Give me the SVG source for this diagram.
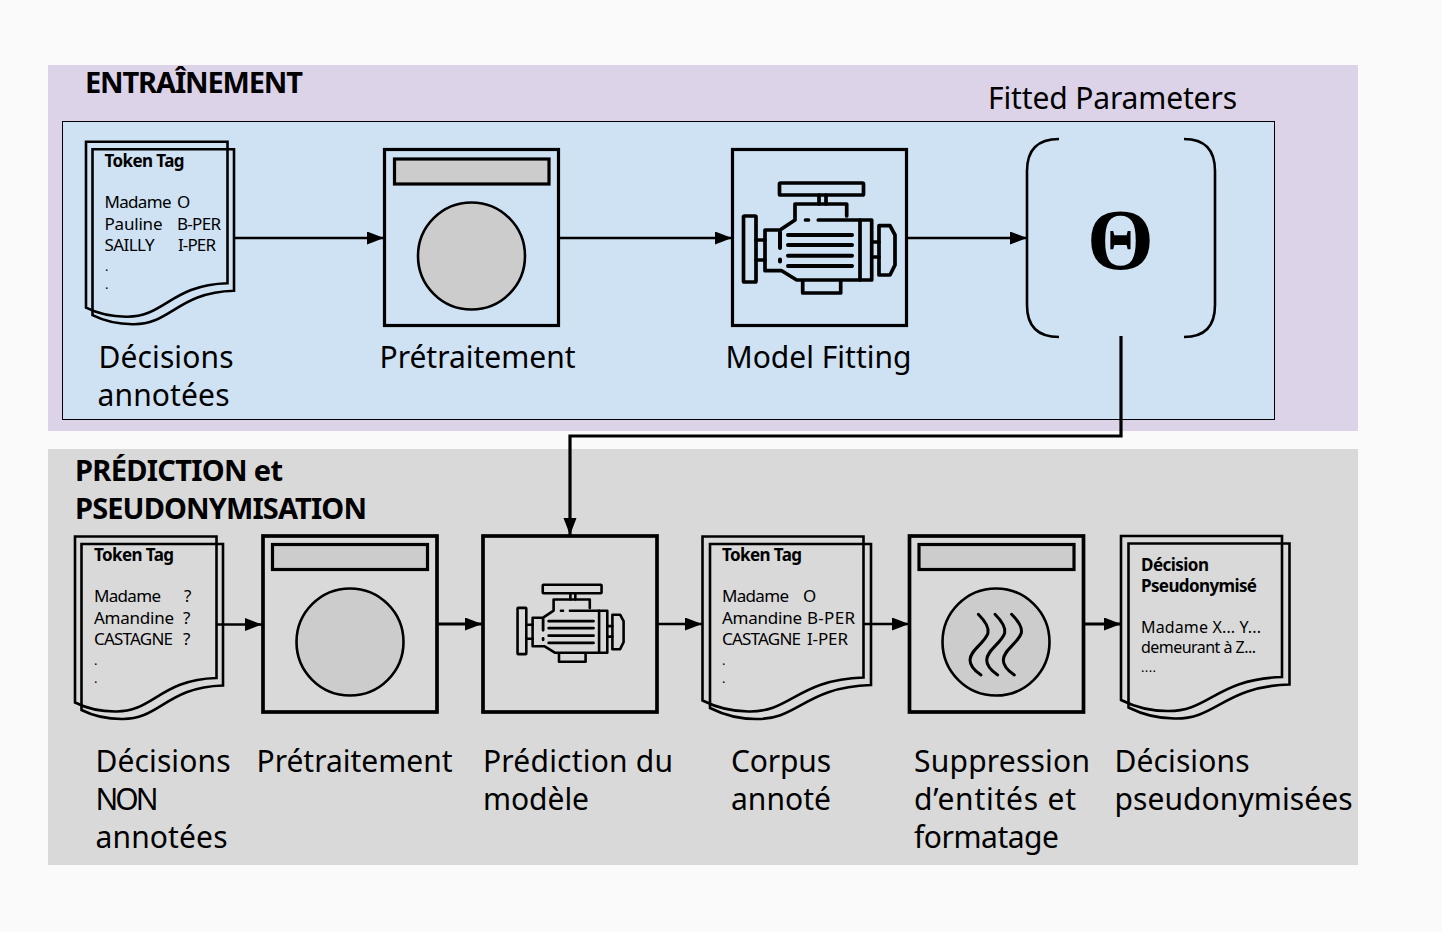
<svg xmlns="http://www.w3.org/2000/svg" width="1442" height="932" viewBox="0 0 1442 932">
<style>
text{font-family:"Noto Sans","Open Sans",sans-serif;fill:#000}
.lab{font-size:30px}
.head{font-size:29px;font-weight:700}
.sm{font-size:17px}
.xs{font-size:16px}
.dot{font-size:13px}
.b{font-size:17px;font-weight:700}
.doc{fill:none;stroke:#000;stroke-width:2.6;stroke-linejoin:miter}
.box{fill:none;stroke:#000;stroke-width:3.2}
.box2{fill:none;stroke:#000;stroke-width:3.7}
.bar{fill:#ccc;stroke:#000;stroke-width:3.2}
.disc{fill:#ccc;stroke:#000;stroke-width:2.6}
.eng{fill:none;stroke:#000;stroke-width:3.7;stroke-linejoin:round;stroke-linecap:round}
.sq{fill:none;stroke:#000;stroke-width:3;stroke-linecap:round}
.arrow{fill:none;stroke:#000;stroke-width:2.4;marker-end:url(#ah)}
.arrow2{fill:none;stroke:#000;stroke-width:3.2;marker-end:url(#ah)}
</style>
<defs>
<marker id="ah" markerUnits="userSpaceOnUse" markerWidth="18" markerHeight="14" refX="17" refY="6.5" orient="auto"><path d="M0,0L17,6.5L0,13Z" fill="#000"/></marker>
<g id="sheet"><path d="M0,0H141.500V141.500C85,143 78,176 40,175C25,175 12,172 0,166Z"/><path transform="translate(6.500,7.500)" d="M0,0H141.500V141.500C85,143 78,176 40,175C25,175 12,172 0,166Z"/></g>
<g id="sheetw"><path d="M0,0H161V141C95,143 88,176 46,175C28,175 14,171 0,164Z"/><path transform="translate(7.500,7.500)" d="M0,0H161V141C95,143 88,176 46,175C28,175 14,171 0,164Z"/></g>
<g id="engine">
<rect x="743.500" y="216" width="12.500" height="66" rx="1"/>
<rect x="779.500" y="183" width="84" height="12" rx="1"/>
<path d="M819,195V204M826,195V204"/>
<path d="M846.700,216V204H795V220L780,230H765V270.700H781.700L796.700,280H871.700V220H818.300"/>
<path d="M805.500,220H808.500M860,220V280M756,240H765M756,260H765M872,242H879M872,257H879"/>
<path d="M879,225.700H890L895,235V265L890,275H879Z"/>
<path d="M802.700,281V293H840.700V281"/>
<path d="M788,235H852M788,245H852M788,255.700H852M788,266H852M780,232V248M780,259.500V261.500" stroke-width="4"/>
</g>
</defs>
<rect width="1442" height="932" fill="#fafafa"/>
<rect x="48" y="65" width="1310" height="366" fill="#dcd3e9"/>
<rect x="62.500" y="121.500" width="1212" height="298" fill="#cfe2f3" stroke="#000" stroke-width="1"/>
<rect x="48" y="449" width="1310" height="416" fill="#d9d9d9"/>
<g id="headings">
<text class="head" x="85" y="92.500" textLength="218">ENTRAÎNEMENT</text>
<text class="lab" x="988" y="109" textLength="249">Fitted Parameters</text>
<text class="head" x="75" y="481" textLength="208">PRÉDICTION et</text>
<text class="head" x="75" y="519" textLength="292">PSEUDONYMISATION</text>
</g>
<g id="connectors">
<path class="arrow" d="M234,238H384"/>
<path class="arrow" d="M559,238H732"/>
<path class="arrow" d="M907,238H1027"/>
<path class="arrow2" d="M1121,336V436H570V535"/>
<path class="arrow" d="M217,624.500H262"/>
<path class="arrow2" d="M438,624H482"/>
<path class="arrow" d="M657,624H702"/>
<path class="arrow" d="M864,624H909"/>
<path class="arrow2" d="M1085,624H1121"/>
</g>
<g id="train-doc">
<use href="#sheet" class="doc" x="86" y="141.700"/>
<text class="b" x="104.500" y="167" textLength="80">Token Tag</text>
<text class="sm" x="104.500" y="208" textLength="67">Madame</text><text class="sm" x="177" y="208">O</text>
<text class="sm" x="104.500" y="230" textLength="58">Pauline</text><text class="sm" x="177" y="230" textLength="44">B-PER</text>
<text class="sm" x="104.500" y="251" textLength="50">SAILLY</text><text class="sm" x="178" y="251" textLength="38">I-PER</text>
<text class="dot" x="105" y="271">.</text><text class="dot" x="105" y="289">.</text>
<text class="lab" x="98.500" y="368" textLength="135">Décisions</text>
<text class="lab" x="97.500" y="406" textLength="132">annotées</text>
</g>
<g id="train-pre">
<rect class="box" x="384.500" y="149.500" width="174" height="176"/>
<rect class="bar" x="394.500" y="159" width="154.500" height="25"/>
<circle class="disc" cx="471.500" cy="256" r="53.500"/>
<text class="lab" x="379.500" y="368" textLength="196">Prétraitement</text>
</g>
<g id="train-fit">
<rect class="box" x="732.500" y="149.500" width="174" height="176"/>
<use href="#engine" class="eng"/>
<text class="lab" x="725.500" y="368" textLength="186">Model Fitting</text>
</g>
<g id="theta">
<path d="M1059,139Q1027,139 1027,171V305Q1027,337 1059,337M1184,139Q1215,139 1215,171V305Q1215,337 1184,337" fill="none" stroke="#000" stroke-width="2.600"/>
<text x="1120.500" y="269" text-anchor="middle" style="font-family:'Liberation Serif',serif;font-weight:700;font-size:86px">Θ</text>
</g>
<g id="pred-doc">
<use href="#sheet" class="doc" x="75" y="536.500"/>
<text class="b" x="94" y="561" textLength="80">Token Tag</text>
<text class="sm" x="94" y="602" textLength="67">Madame</text><text class="sm" x="184" y="602">?</text>
<text class="sm" x="94" y="624" textLength="80">Amandine</text><text class="sm" x="183" y="624">?</text>
<text class="sm" x="94" y="645" textLength="79">CASTAGNE</text><text class="sm" x="183" y="645">?</text>
<text class="dot" x="94" y="665">.</text><text class="dot" x="94" y="683">.</text>
<text class="lab" x="95.500" y="772" textLength="135">Décisions</text>
<text class="lab" x="95.500" y="810" textLength="63">NON</text>
<text class="lab" x="95.500" y="848" textLength="132">annotées</text>
</g>
<g id="pred-pre">
<rect class="box2" x="263" y="536" width="174" height="176"/>
<rect class="bar" x="272.500" y="544.500" width="155" height="25"/>
<circle class="disc" cx="350" cy="642" r="53.500"/>
<text class="lab" x="256.500" y="772" textLength="196">Prétraitement</text>
</g>
<g id="pred-model">
<rect class="box2" x="483" y="536" width="174" height="176"/>
<use href="#engine" class="eng" transform="translate(570.400,623.300) scale(.7) translate(-819,-238)"/>
<text class="lab" x="483" y="772" textLength="190">Prédiction du</text>
<text class="lab" x="483" y="810" textLength="106">modèle</text>
</g>
<g id="pred-corpus">
<use href="#sheetw" class="doc" x="702.500" y="536.500"/>
<text class="b" x="722" y="561" textLength="80">Token Tag</text>
<text class="sm" x="722" y="602" textLength="67">Madame</text><text class="sm" x="803" y="602">O</text>
<text class="sm" x="722" y="624" textLength="80">Amandine</text><text class="sm" x="807" y="624" textLength="48">B-PER</text>
<text class="sm" x="722" y="645" textLength="79">CASTAGNE</text><text class="sm" x="807" y="645" textLength="41">I-PER</text>
<text class="dot" x="722" y="665">.</text><text class="dot" x="722" y="683">.</text>
<text class="lab" x="731" y="772" textLength="100">Corpus</text>
<text class="lab" x="731" y="810" textLength="100">annoté</text>
</g>
<g id="pred-clean">
<rect class="box2" x="909.500" y="536" width="174" height="176"/>
<rect class="bar" x="919" y="544.500" width="155" height="25"/>
<circle class="disc" cx="996" cy="642" r="53.500"/>
<path class="sq" d="M978.300,614.300C986,622 989,628 988,633C985,643 970,650 970,660C970,666 975,671 981,675"/>
<path class="sq" d="M995,614.300C1002.700,622 1005.700,628 1004.700,633C1001.700,643 986.700,650 986.700,660C986.700,666 991.700,671 997.700,675"/>
<path class="sq" d="M1011.600,614.300C1019.300,622 1022.300,628 1021.300,633C1018.300,643 1003.300,650 1003.300,660C1003.300,666 1008.300,671 1014.300,675"/>
<text class="lab" x="914" y="772" textLength="176">Suppression</text>
<text class="lab" x="914" y="810" textLength="162">d’entités et</text>
<text class="lab" x="914" y="848" textLength="145">formatage</text>
</g>
<g id="pred-out">
<use href="#sheetw" class="doc" x="1121" y="536"/>
<text class="b" x="1141" y="571" textLength="68">Décision</text>
<text class="b" x="1141" y="592" textLength="116">Pseudonymisé</text>
<text class="xs" x="1141" y="633" textLength="120">Madame X... Y...</text>
<text class="xs" x="1141" y="653" textLength="115">demeurant à Z...</text>
<text class="dot" x="1141" y="672" textLength="15">....</text>
<text class="lab" x="1114.500" y="772" textLength="135">Décisions</text>
<text class="lab" x="1114.500" y="810" textLength="238">pseudonymisées</text>
</g>
</svg>
